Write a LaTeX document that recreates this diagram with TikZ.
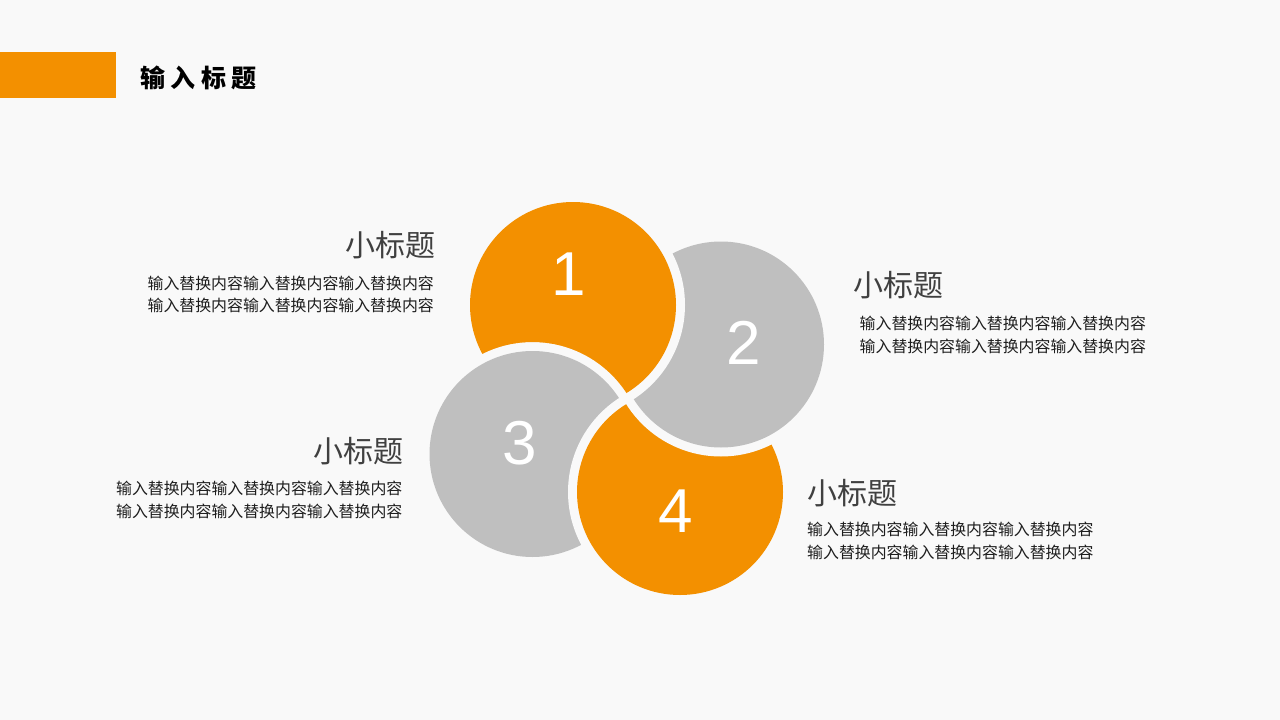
\documentclass[tikz,border=0pt]{standalone}
\usepackage{fontspec}
\setmainfont{Liberation Sans}
\newfontfamily\cjk{Noto Sans CJK SC}
\definecolor{bgc}{HTML}{F9F9F9}
\definecolor{orng}{HTML}{F39000}
\definecolor{gry}{HTML}{BFBFBF}
\definecolor{subc}{HTML}{404040}
\definecolor{bodyc}{HTML}{1E1E1E}
\begin{document}
\begin{tikzpicture}[x=1pt,y=-1pt,
  titletext/.style={inner sep=0pt,font=\cjk\bfseries\fontsize{25}{25}\selectfont\addfontfeature{LetterSpace=22},text=black},
  subtitle/.style={inner sep=0pt,font=\cjk\fontsize{30}{30}\selectfont,text=subc},
  bodytext/.style={inner sep=0pt,font=\cjk\fontsize{15.9}{23}\selectfont,text=bodyc},
  digit/.style={inner sep=0pt,font=\fontsize{62}{62}\selectfont,text=white}]
\useasboundingbox (0,0) rectangle (1280,720);
\fill[bgc] (0,0) rectangle (1280,720);
\fill[orng] (0,52) rectangle (116,97.5);
\node[titletext,anchor=west] (ttl) at (140,77.5) {输入标题};

\coordinate (c1) at (573,305);
\coordinate (c2) at (721,344.5);
\coordinate (c3) at (532.5,454);
\coordinate (c4) at (680,492);

% draw order 1,3,4,2
\fill[bgc] (c1) circle (112pt); \fill[orng] (c1) circle (103pt);
\fill[bgc] (c3) circle (112pt); \fill[gry] (c3) circle (103pt);
\fill[bgc] (c4) circle (112pt); \fill[orng] (c4) circle (103pt);
\fill[bgc] (c2) circle (112pt); \fill[gry] (c2) circle (103pt);
% circle 1 over circle 2 (but still under circle 3)
\begin{scope}[even odd rule]
  \clip (0,0) rectangle (1280,720) (c3) circle (112pt);
  \fill[bgc] (c1) circle (112pt); \fill[orng] (c1) circle (103pt);
\end{scope}

\node[digit] (d1) at (569,274) {1};
\node[digit] (d2) at (743.5,343) {2};
\node[digit] (d3) at (520,443.5) {3};
\node[digit] (d4) at (676,511) {4};

\node[subtitle,anchor=east] (s1) at (436,245.5) {小标题};
\node[bodytext,anchor=east] (b1a) at (434,283) {输入替换内容输入替换内容输入替换内容};
\node[bodytext,anchor=east] (b1b) at (434,305.5) {输入替换内容输入替换内容输入替换内容};

\node[subtitle,anchor=west] (s2) at (853,285.5) {小标题};
\node[bodytext,anchor=west] (b2a) at (859.5,323.5) {输入替换内容输入替换内容输入替换内容};
\node[bodytext,anchor=west] (b2b) at (859.5,346) {输入替换内容输入替换内容输入替换内容};

\node[subtitle,anchor=east] (s3) at (404,451) {小标题};
\node[bodytext,anchor=east] (b3a) at (402.5,488.5) {输入替换内容输入替换内容输入替换内容};
\node[bodytext,anchor=east] (b3b) at (402.5,511) {输入替换内容输入替换内容输入替换内容};

\node[subtitle,anchor=west] (s4) at (807,493) {小标题};
\node[bodytext,anchor=west] (b4a) at (807,529) {输入替换内容输入替换内容输入替换内容};
\node[bodytext,anchor=west] (b4b) at (807,552) {输入替换内容输入替换内容输入替换内容};
\end{tikzpicture}
\end{document}
